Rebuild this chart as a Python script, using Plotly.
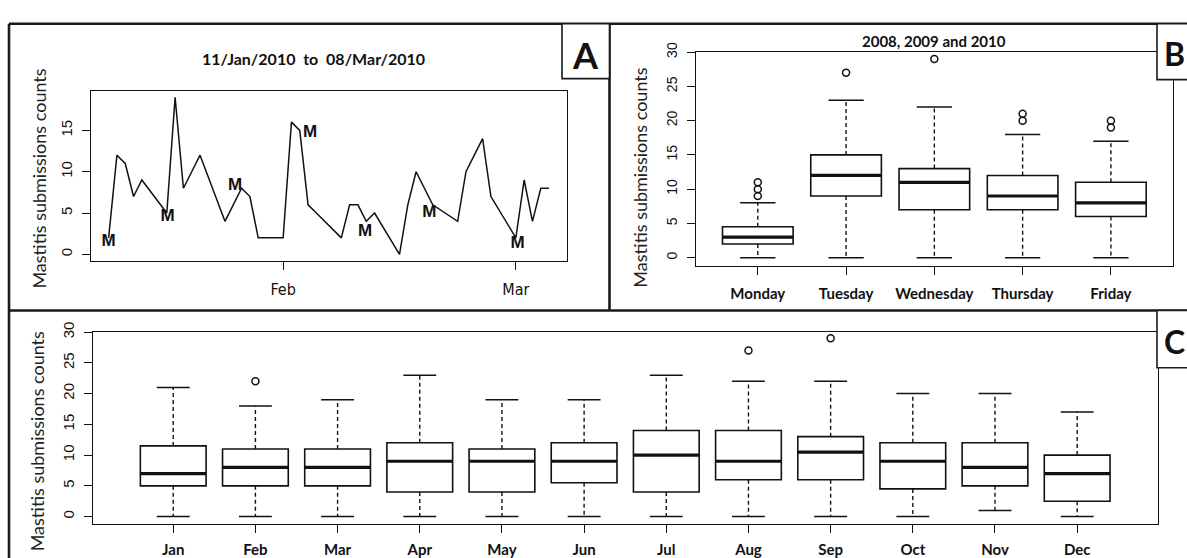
import datetime as dt
import plotly.graph_objects as go

W, H = 1187, 558
INK = "#111111"
NUM_FONT = "Liberation Sans, Arial, sans-serif"
NARROW_FONT = "Liberation Sans Narrow, DejaVu Sans Condensed, Arial Narrow, sans-serif"
TXT_FONT = "Lato, Open Sans, sans-serif"

# ---------------- Panel A : daily counts (weekdays) ----------------
a_dates = [
    "2010-01-11", "2010-01-12", "2010-01-13", "2010-01-14", "2010-01-15",
    "2010-01-18", "2010-01-19", "2010-01-20", "2010-01-21", "2010-01-22",
    "2010-01-25", "2010-01-26", "2010-01-27", "2010-01-28", "2010-01-29",
    "2010-02-01", "2010-02-02", "2010-02-03", "2010-02-04", "2010-02-05",
    "2010-02-08", "2010-02-09", "2010-02-10", "2010-02-11", "2010-02-12",
    "2010-02-15", "2010-02-16", "2010-02-17", "2010-02-18", "2010-02-19",
    "2010-02-22", "2010-02-23", "2010-02-24", "2010-02-25", "2010-02-26",
    "2010-03-01", "2010-03-02", "2010-03-03", "2010-03-04", "2010-03-05",
]
a_counts = [
    2, 12, 11, 7, 9,
    5, 19, 8, 10, 12,
    4, 6, 8, 7, 2,
    2, 16, 15, 6, 5,
    2, 6, 6, 4, 5,
    0, 6, 10, 8, 6,
    4, 10, 12, 14, 7,
    2, 9, 4, 8, 8,
]
m_label_times = [
    "2010-01-11 00:00", "2010-01-18 02:00", "2010-01-26 05:00", "2010-02-04 06:00",
    "2010-02-10 21:00", "2010-02-18 14:00", "2010-03-01 05:00",
]
m_label_values = [1.5, 4.6, 8.3, 14.7, 2.7, 5.0, 1.3]
a_tick_dates = ["2010-02-01", "2010-03-01"]
a_tick_text = ["Feb", "Mar"]
a_y_ticks = [0, 5, 10, 15]

# ---------------- Panel B : by weekday ----------------
days = ["Monday", "Tuesday", "Wednesday", "Thursday", "Friday"]
b_q1 = [2, 9, 7, 7, 6]
b_median = [3, 12, 11, 9, 8]
b_q3 = [4.5, 15, 13, 12, 11]
b_lower = [0, 0, 0, 0, 0]
b_upper = [8, 23, 22, 18, 17]
b_outliers = [[9, 10, 11], [27], [29], [20, 21], [19, 20]]

# ---------------- Panel C : by month ----------------
months = ["Jan", "Feb", "Mar", "Apr", "May", "Jun",
          "Jul", "Aug", "Sep", "Oct", "Nov", "Dec"]
c_q1 = [5, 5, 5, 4, 4, 5.5, 4, 6, 6, 4.5, 5, 2.5]
c_median = [7, 8, 8, 9, 9, 9, 10, 9, 10.5, 9, 8, 7]
c_q3 = [11.5, 11, 11, 12, 11, 12, 14, 14, 13, 12, 12, 10]
c_lower = [0, 0, 0, 0, 0, 0, 0, 0, 0, 0, 1, 0]
c_upper = [21, 18, 19, 23, 19, 19, 23, 22, 22, 20, 20, 17]
c_outliers = [[], [22], [], [], [], [], [], [27], [29], [], [], []]

count_ticks = [0, 5, 10, 15, 20, 25, 30]
y_title = "Mastitis submissions counts"


def px(x):
    return x / W


def py(y):
    return 1 - y / H


fig = go.Figure()

# ---- Panel A traces ----
fig.add_trace(go.Scatter(
    x=a_dates, y=a_counts, mode="lines",
    line=dict(color=INK, width=1.5), xaxis="x", yaxis="y",
    showlegend=False, hoverinfo="x+y"))
fig.add_trace(go.Scatter(
    x=m_label_times, y=m_label_values, mode="text", text=["M"] * len(m_label_times),
    textfont=dict(family=NUM_FONT, size=17, color=INK, weight="bold"),
    textposition="middle center", xaxis="x", yaxis="y", showlegend=False,
    hoverinfo="skip"))


def add_boxes(pos, q1, med, q3, lo, hi, outl, xa, ya):
    fig.add_trace(go.Box(
        x=pos, q1=q1, median=med, q3=q3, lowerfence=q1, upperfence=q3,
        width=0.8, whiskerwidth=0, fillcolor="white", boxpoints=False,
        line=dict(color=INK, width=1.6), xaxis=xa, yaxis=ya, showlegend=False))
    wx, wy, sx, sy, mx, my = [], [], [], [], [], []
    for p, a, m, b, l, h in zip(pos, q1, med, q3, lo, hi):
        wx += [p, p, None, p, p, None]
        wy += [b, h, None, a, l, None]
        sx += [p - 0.2, p + 0.2, None, p - 0.2, p + 0.2, None]
        sy += [h, h, None, l, l, None]
        mx += [p - 0.4, p + 0.4, None]
        my += [m, m, None]
    fig.add_trace(go.Scatter(x=wx, y=wy, mode="lines", xaxis=xa, yaxis=ya,
                             line=dict(color=INK, width=1.4, dash="4px,3px"),
                             showlegend=False, hoverinfo="skip"))
    fig.add_trace(go.Scatter(x=sx, y=sy, mode="lines", xaxis=xa, yaxis=ya,
                             line=dict(color=INK, width=1.5),
                             showlegend=False, hoverinfo="skip"))
    fig.add_trace(go.Scatter(x=mx, y=my, mode="lines", xaxis=xa, yaxis=ya,
                             line=dict(color=INK, width=3.2),
                             showlegend=False, hoverinfo="skip"))
    ox, oy = [], []
    for p, vals in zip(pos, outl):
        for v in vals:
            ox.append(p)
            oy.append(v)
    fig.add_trace(go.Scatter(x=ox, y=oy, mode="markers", xaxis=xa, yaxis=ya,
                             marker=dict(symbol="circle-open", size=7,
                                         color=INK, line=dict(width=1.5)),
                             showlegend=False))


b_pos = list(range(1, len(days) + 1))
c_pos = list(range(1, len(months) + 1))
add_boxes(b_pos, b_q1, b_median, b_q3, b_lower, b_upper, b_outliers, "x2", "y2")
add_boxes(c_pos, c_q1, c_median, c_q3, c_lower, c_upper, c_outliers, "x3", "y3")

# ---- axis ranges (R style: 4% extension) ----
t0 = dt.datetime.fromisoformat(a_dates[0])
t1 = dt.datetime.fromisoformat(a_dates[-1])
pad = (t1 - t0) * 0.04
a_xrange = [(t0 - pad).isoformat(sep=" "), (t1 + pad).isoformat(sep=" ")]
ya_pad = (max(a_counts) - min(a_counts)) * 0.04
a_yrange = [min(a_counts) - ya_pad, max(a_counts) + ya_pad]

common = dict(showline=True, mirror=True, linecolor=INK, linewidth=1.4,
              ticks="outside", ticklen=8, tickwidth=1.3, tickcolor=INK,
              showgrid=False, zeroline=False)
num_tick = dict(family=NUM_FONT, size=15, color=INK)
cat_tick = dict(family=TXT_FONT, size=15, color=INK, weight="bold")

fig.update_layout(
    width=W, height=H,
    margin=dict(l=0, r=0, t=0, b=0),
    paper_bgcolor="white", plot_bgcolor="white",
    showlegend=False,
    xaxis=dict(domain=[px(91), px(566.7)], anchor="y", type="date", range=a_xrange,
               tickmode="array", tickvals=a_tick_dates, ticktext=a_tick_text,
               tickfont=dict(family=NARROW_FONT, size=16, color=INK),
               ticklabelstandoff=6, **common),
    yaxis=dict(domain=[py(255.7), py(82.7)], anchor="x", range=a_yrange,
               tickmode="array", tickvals=a_y_ticks, tickangle=-90,
               tickfont=num_tick, ticklabelstandoff=4, **common),
    xaxis2=dict(domain=[px(696), px(1172.7)], anchor="y2", range=[0.3, 5.7],
                tickmode="array", tickvals=b_pos, ticktext=days,
                tickfont=cat_tick, ticklabelstandoff=6, **common),
    yaxis2=dict(domain=[py(261), py(42.7)], anchor="x2", range=[-1.2, 30.05],
                tickmode="array", tickvals=count_ticks, tickangle=-90,
                tickfont=dict(family=NUM_FONT, size=14, color=INK),
                ticklabelstandoff=4, **common),
    xaxis3=dict(domain=[px(92.7), px(1157.7)], anchor="y3", range=[0.02, 12.98],
                tickmode="array", tickvals=c_pos, ticktext=months,
                tickfont=cat_tick, ticklabelstandoff=4, **common),
    yaxis3=dict(domain=[py(524.3), py(328.3)], anchor="x3", range=[-1.2, 30.05],
                tickmode="array", tickvals=count_ticks, tickangle=-90,
                tickfont=num_tick, ticklabelstandoff=4, **common),
)

# ---- titles and axis labels ----
ann = []
ann.append(dict(text="11/Jan/2010  to  08/Mar/2010", x=px(313), y=py(49),
                font=dict(family=TXT_FONT, size=16, color=INK, weight="bold")))
ann.append(dict(text="2008, 2009 and 2010", x=px(934), y=py(32),
                font=dict(family=TXT_FONT, size=15, color=INK, weight="bold")))
for xx, yy in [(39, 172), (640, 171), (37, 440)]:
    ann.append(dict(text=y_title, x=px(xx), y=py(yy), textangle=-90,
                    font=dict(family=TXT_FONT, size=18, color="#222222")))
for letter, xx, yy, sz in [("A", 585, 46, 36), ("B", 1174, 44, 32), ("C", 1174, 338, 32)]:
    ann.append(dict(text=letter, x=px(xx), y=py(yy),
                    font=dict(family=TXT_FONT, size=sz, color=INK, weight="bold")))
for a in ann:
    a.update(xref="paper", yref="paper", showarrow=False,
             xanchor="center", yanchor="middle")
fig.update_layout(annotations=ann)

# ---- panel frames and letter boxes ----
FRAME = dict(color="#1a1a1a", width=2.6)
BOXL = dict(color="#1a1a1a", width=1.6)
shapes = [
    dict(type="line", x0=px(9), x1=px(1190), y0=py(14), y1=py(14), line=FRAME),
    dict(type="line", x0=px(9), x1=px(9), y0=py(14), y1=py(560), line=FRAME),
    dict(type="line", x0=px(609.5), x1=px(609.5), y0=py(14), y1=py(306.5), line=FRAME),
    dict(type="line", x0=px(9), x1=px(1190), y0=py(306.5), y1=py(306.5), line=FRAME),
    dict(type="rect", x0=px(562), x1=px(609.5), y0=py(14), y1=py(70),
         line=BOXL, fillcolor="white"),
    dict(type="rect", x0=px(1157), x1=px(1192), y0=py(14), y1=py(71),
         line=BOXL, fillcolor="white"),
    dict(type="rect", x0=px(1157), x1=px(1192), y0=py(306.5), y1=py(365),
         line=BOXL, fillcolor="white"),
]
for s in shapes:
    s.update(xref="paper", yref="paper", layer="above")
fig.update_layout(shapes=shapes)

fig.write_html(
    "out.html",
    config={"displayModeBar": False},
    post_script=(
        "document.body.style.margin='0';document.body.style.padding='0';"
        "document.body.style.overflow='hidden';"
        "var gd=document.getElementById('{plot_id}');"
        "gd.style.position='fixed';gd.style.top='0px';gd.style.left='0px';"
    ),
)
